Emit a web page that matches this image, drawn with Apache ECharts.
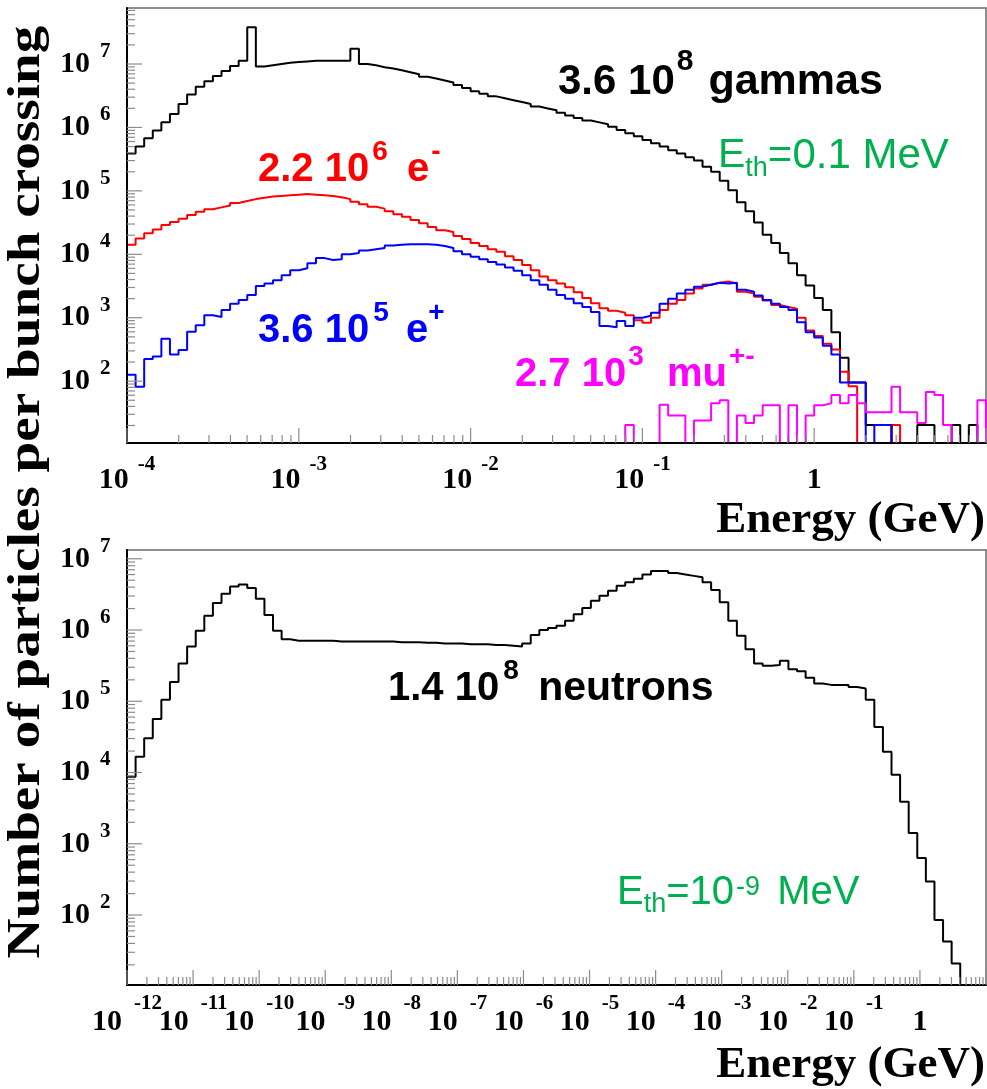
<!DOCTYPE html>
<html>
<head>
<meta charset="utf-8">
<script src="https://cdn.jsdelivr.net/npm/echarts@6/dist/echarts.min.js"></script>
<style>
  html, body { margin: 0; padding: 0; background: #fff; }
  #chart { width: 987px; height: 1089px; }
</style>
</head>
<body>
<div id="chart"></div>
<script>
// ---- Upper panel: 100 log-spaced bins from 1e-4 to 10 GeV ----
// Values are log10(particles per bunch crossing per bin); null = empty bin.
const upperRangeExp = [-4, 1];
const gammaLog = [
  5.59,5.70,5.83,5.95,6.08,6.21,6.37,6.52,6.64,6.73,
  6.81,6.89,6.97,7.05,7.58,6.96,6.98,7.00,7.02,7.03,
  7.04,7.05,7.05,7.05,7.05,7.05,7.24,7.00,6.98,6.95,
  6.93,6.90,6.87,6.84,6.80,6.77,6.74,6.71,6.67,6.62,
  6.57,6.53,6.49,6.46,6.43,6.40,6.37,6.33,6.30,6.27,
  6.23,6.19,6.15,6.11,6.08,6.05,6.01,5.96,5.91,5.86,
  5.80,5.75,5.70,5.64,5.59,5.53,5.48,5.38,5.30,5.16,
  5.01,4.82,4.68,4.50,4.31,4.18,4.02,3.86,3.67,3.51,
  3.31,3.12,2.77,2.37,1.98,1.98,1.31,1.31,1.31,null,
  null,null,1.31,1.31,null,null,1.31,null,1.31,null
];
const electronLog = [
  4.15,4.25,4.33,4.39,4.46,4.51,4.56,4.62,4.67,4.71,
  4.74,4.77,4.81,4.84,4.87,4.89,4.91,4.92,4.93,4.94,
  4.95,4.94,4.93,4.92,4.90,4.87,4.83,4.79,4.75,4.72,
  4.68,4.63,4.59,4.54,4.49,4.43,4.38,4.35,4.29,4.24,
  4.18,4.13,4.08,4.04,3.97,3.91,3.83,3.75,3.65,3.59,
  3.54,3.48,3.40,3.31,3.23,3.15,3.11,3.08,3.04,2.96,
  2.92,3.00,3.12,3.22,3.28,3.38,3.46,3.52,3.55,3.57,
  3.54,3.41,3.38,3.33,3.27,3.20,3.17,3.14,3.00,2.80,
  2.71,2.59,2.50,2.15,1.92,null,null,null,null,1.31,
  null,null,null,null,null,null,null,null,null,null
];
const positronLog = [
  2.10,1.91,2.35,2.39,2.67,2.42,2.49,2.78,2.88,3.04,
  3.01,3.12,3.22,3.28,3.36,3.50,3.54,3.59,3.67,3.75,
  3.78,3.86,3.94,3.91,3.92,4.00,4.02,4.06,4.08,4.10,
  4.14,4.15,4.16,4.16,4.16,4.15,4.13,4.10,4.05,4.00,
  3.96,3.92,3.88,3.84,3.79,3.74,3.67,3.59,3.52,3.44,
  3.36,3.30,3.23,3.17,3.09,2.87,2.85,2.95,2.87,3.00,
  3.03,3.08,3.22,3.30,3.38,3.44,3.49,3.52,3.55,3.54,
  3.55,3.44,3.41,3.35,3.28,3.22,3.17,3.12,2.93,2.77,
  2.69,2.56,2.42,1.98,1.98,1.98,null,1.31,1.31,null,
  null,null,null,null,null,null,null,null,null,null
];
const muonLog = [
  null,null,null,null,null,null,null,null,null,null,
  null,null,null,null,null,null,null,null,null,null,
  null,null,null,null,null,null,null,null,null,null,
  null,null,null,null,null,null,null,null,null,null,
  null,null,null,null,null,null,null,null,null,null,
  null,null,null,null,null,null,null,null,1.31,null,
  null,null,1.63,1.46,1.46,null,1.38,1.38,1.65,1.70,
  null,1.46,1.34,1.46,1.62,1.62,null,1.62,null,1.46,
  1.62,1.65,1.78,1.65,1.78,1.65,1.51,1.51,1.51,1.91,
  1.51,1.51,1.34,1.83,1.78,1.31,null,null,null,1.70
];
const upperYRangeExp = [1.025, 7.883];
const upperXDecades = [-4, -3, -2, -1, 0, 1];
const upperYDecades = [1, 2, 3, 4, 5, 6, 7];
const upperXLabelExp = [-4, -3, -2, -1, 0];
const upperYLabelExp = [2, 3, 4, 5, 6, 7];

// ---- Lower panel: 100 log-spaced bins from 1e-12 to 10 GeV ----
const lowerRangeExp = [-12, 1];
const neutronLog = [
  3.94,4.22,4.48,4.75,5.02,5.27,5.53,5.77,5.99,6.20,
  6.38,6.51,6.61,6.64,6.59,6.44,6.21,5.99,5.87,5.85,
  5.85,5.85,5.85,5.85,5.84,5.84,5.84,5.84,5.84,5.84,
  5.84,5.83,5.83,5.83,5.82,5.82,5.81,5.81,5.81,5.80,
  5.80,5.80,5.79,5.79,5.78,5.77,5.81,5.93,6.00,6.03,
  6.06,6.13,6.22,6.31,6.41,6.48,6.55,6.62,6.67,6.72,
  6.78,6.83,6.83,6.80,6.78,6.76,6.74,6.67,6.56,6.39,
  6.13,5.92,5.73,5.53,5.50,5.51,5.57,5.45,5.42,5.33,
  5.25,5.23,5.23,5.23,5.20,5.18,5.02,4.64,4.29,3.97,
  3.59,3.15,2.80,2.47,1.93,1.63,1.32,null,null,null
];
const lowerYRangeExp = [1.018, 7.123];
const lowerXDecades = [-12,-11,-10,-9,-8,-7,-6,-5,-4,-3,-2,-1,0,1];
const lowerYDecades = [1, 2, 3, 4, 5, 6, 7];
const lowerXLabelExp = [-12,-11,-10,-9,-8,-7,-6,-5,-4,-3,-2,-1,0];
const lowerYLabelExp = [2, 3, 4, 5, 6, 7];

const SERIF = '"Liberation Serif", "Times New Roman", serif';
const SANS = '"Liberation Sans", Arial, sans-serif';

const measure = document.createElement('canvas').getContext('2d');
function textWidth(str, font) { measure.font = font; return measure.measureText(str).width; }

// Step outline of a histogram: vertical rise at the first edge, flat tops, drop at the last edge.
function histogram(logs, rangeExp, floor) {
  const n = logs.length;
  const w = (rangeExp[1] - rangeExp[0]) / n;
  const edge = i => Math.pow(10, rangeExp[0] + i * w);
  const val = v => (v == null ? floor : Math.pow(10, v));
  const pts = [[edge(0), floor]];
  for (let i = 0; i < n; i++) pts.push([edge(i), val(logs[i])]);
  pts.push([edge(n), val(logs[n - 1])]);
  pts.push([edge(n), floor]);
  return pts;
}

function lineSeries(name, logs, rangeExp, floor, color, idx, z) {
  return {
    name, type: 'line', step: 'end', xAxisIndex: idx, yAxisIndex: idx,
    data: histogram(logs, rangeExp, floor), showSymbol: false, symbol: 'none',
    lineStyle: { color, width: 2 }, z, silent: true, animation: false
  };
}

// ROOT-style tick marks (decades long, 2..9 short) placed through the axes' log scales.
function tickSeries(idx, xDecades, yDecades, xExt, yExt) {
  const data = [];
  const inX = v => v >= xExt[0] * 0.9999 && v <= xExt[1] * 1.0001;
  const inY = v => v >= yExt[0] && v <= yExt[1];
  xDecades.forEach(e => {
    for (let k = 1; k <= 9; k++) {
      const v = k * Math.pow(10, e);
      if (inX(v)) data.push([v, yExt[0], 0, k === 1 ? 1 : 0]);
    }
  });
  yDecades.forEach(e => {
    for (let k = 1; k <= 9; k++) {
      const v = k * Math.pow(10, e);
      if (inY(v)) data.push([xExt[0], v, 1, k === 1 ? 1 : 0]);
    }
  });
  return {
    type: 'custom', xAxisIndex: idx, yAxisIndex: idx, silent: true, z: 6,
    clip: false, animation: false, data,
    renderItem(params, api) {
      const p = api.coord([api.value(0), api.value(1)]);
      const len = api.value(3) ? 15 : 8;
      const shape = api.value(2) === 1
        ? { x1: p[0], y1: p[1], x2: p[0] + len, y2: p[1] }
        : { x1: p[0], y1: p[1], x2: p[0], y2: p[1] - len };
      return { type: 'line', shape, style: { stroke: '#8c8c8c', lineWidth: 1.2 } };
    }
  };
}

// Power-of-ten tick labels ("10" with a raised exponent), positioned from the axis scales.
function labelSeries(idx, xExps, yExps, xExt, yExt, cfg) {
  const data = [];
  xExps.forEach(e => data.push([Math.pow(10, e), yExt[0], 0, e]));
  yExps.forEach(e => data.push([xExt[0], Math.pow(10, e), 1, e]));
  const baseFont = 'bold 30px ' + SERIF;
  const expFont = 'bold 21px ' + SERIF;
  const txt = (x, y, text, font, align) => ({
    type: 'text', x, y,
    style: { text, font, fill: '#000', align, verticalAlign: 'middle' }
  });
  return {
    type: 'custom', xAxisIndex: idx, yAxisIndex: idx, silent: true, z: 6,
    clip: false, animation: false, data,
    renderItem(params, api) {
      const p = api.coord([api.value(0), api.value(1)]);
      const e = api.value(3);
      const s = String(e);
      if (api.value(2) === 1) {
        return {
          type: 'group', children: [
            txt(p[0] - 37, p[1], '10', baseFont, 'right'),
            txt(p[0] - 27, p[1] - 12.5, s, expFont, 'left')
          ]
        };
      }
      const y = p[1] + cfg.dy;
      if (e === 0) return txt(p[0], y, '1', baseFont, 'center');
      const wb = textWidth('10', baseFont);
      const we = textWidth(s, expFont);
      const left = p[0] - (wb + cfg.gap + we) / 2;
      return {
        type: 'group', children: [
          txt(left, y, '10', baseFont, 'left'),
          txt(left + wb + cfg.gap, y - cfg.raise, s, expFont, 'left')
        ]
      };
    }
  };
}

function xAxis(idx, rangeExp) {
  return {
    type: 'log', logBase: 10, gridIndex: idx,
    min: Math.pow(10, rangeExp[0]), max: Math.pow(10, rangeExp[1]), interval: 1,
    z: 5,
    axisLine: { show: true, onZero: false, lineStyle: { color: '#000', width: 2 } },
    axisTick: { show: false }, splitLine: { show: false }, minorTick: { show: false },
    axisLabel: { show: false }
  };
}

function yAxis(idx, rangeExp) {
  return {
    type: 'log', logBase: 10, gridIndex: idx,
    min: Math.pow(10, rangeExp[0]), max: Math.pow(10, rangeExp[1]),
    z: 5,
    axisLine: { show: true, onZero: false, lineStyle: { color: '#000', width: 2 } },
    axisTick: { show: false }, splitLine: { show: false }, minorTick: { show: false },
    axisLabel: { show: false }
  };
}

// Inline text with superscripts / subscripts laid out piece by piece (dx = extra gap before a piece).
function runs(x, y, color, parts) {
  const out = [];
  let cx = x;
  parts.forEach(p => {
    const font = (p.weight || 'bold') + ' ' + p.size + 'px ' + SANS;
    cx += p.dx || 0;
    out.push({
      type: 'text', x: cx, y: y - (p.rise || 0), z: 20, silent: true,
      style: { text: p.t, font, fill: color, align: 'left', verticalAlign: 'middle' }
    });
    cx += textWidth(p.t, font);
  });
  return out;
}

const upperXExt = [Math.pow(10, upperRangeExp[0]), Math.pow(10, upperRangeExp[1])];
const upperYExt = [Math.pow(10, upperYRangeExp[0]), Math.pow(10, upperYRangeExp[1])];
const lowerXExt = [Math.pow(10, lowerRangeExp[0]), Math.pow(10, lowerRangeExp[1])];
const lowerYExt = [Math.pow(10, lowerYRangeExp[0]), Math.pow(10, lowerYRangeExp[1])];

const GREEN = '#00b050';
const graphics = [].concat(
  runs(558, 82, '#000', [
    { t: '3.6 10', size: 42 }, { t: '8', size: 30, rise: 20, dx: 2 }, { t: ' gammas', size: 43, dx: 3 }
  ]),
  runs(258, 170, '#ff0000', [
    { t: '2.2 10', size: 40 }, { t: '6', size: 28, rise: 18, dx: 3 }, { t: ' e', size: 40, dx: 8 },
    { t: '-', size: 28, rise: 18, dx: 2 }
  ]),
  runs(258, 331, '#0000ff', [
    { t: '3.6 10', size: 40 }, { t: '5', size: 28, rise: 18, dx: 4 }, { t: ' e', size: 40, dx: 6 },
    { t: '+', size: 28, rise: 18 }
  ]),
  runs(515, 375, '#ff00ff', [
    { t: '2.7 10', size: 40 }, { t: '3', size: 28, rise: 18, dx: 2 }, { t: ' mu', size: 40, dx: 12 },
    { t: '+-', size: 28, rise: 18, dx: 2 }
  ]),
  runs(718, 156, GREEN, [
    { t: 'E', size: 41, weight: 'normal' }, { t: 'th', size: 27, weight: 'normal', rise: -13 },
    { t: '=0.1 MeV', size: 42, weight: 'normal' }
  ]),
  runs(388, 689, '#000', [
    { t: '1.4 10', size: 40 }, { t: '8', size: 28, rise: 18, dx: 4 }, { t: ' neutrons', size: 41, dx: 8 }
  ]),
  runs(617, 893, GREEN, [
    { t: 'E', size: 40, weight: 'normal' }, { t: 'th', size: 27, weight: 'normal', rise: -12 },
    { t: '=10', size: 40, weight: 'normal' }, { t: '-9', size: 27, weight: 'normal', rise: 5, dx: 2 },
    { t: ' MeV', size: 40, weight: 'normal', dx: 6 }
  ]),
  [
    {
      type: 'text', x: 985, y: 520, z: 20, silent: true,
      style: { text: 'Energy (GeV)', font: 'bold 45px ' + SERIF, fill: '#000', align: 'right', verticalAlign: 'middle' }
    },
    {
      type: 'text', x: 985, y: 1065, z: 20, silent: true,
      style: { text: 'Energy (GeV)', font: 'bold 45px ' + SERIF, fill: '#000', align: 'right', verticalAlign: 'middle' }
    },
    {
      type: 'text', x: 27, y: 492, rotation: Math.PI / 2, z: 20, silent: true,
      style: { text: 'Number of particles per bunch crossing', font: 'bold 46px ' + SERIF, fill: '#000', align: 'center', verticalAlign: 'middle' },
      scaleX: 1.2
    }
  ]
);

const chart = echarts.init(document.getElementById('chart'), null, { renderer: 'canvas' });
chart.setOption({
  animation: false,
  backgroundColor: '#fff',
  grid: [
    { left: 127, top: 8, width: 859, height: 435, show: true, borderColor: '#6a6a6a', borderWidth: 1.5, backgroundColor: 'transparent', containLabel: false, outerBoundsMode: 'none' },
    { left: 127, top: 550, width: 859, height: 435, show: true, borderColor: '#6a6a6a', borderWidth: 1.5, backgroundColor: 'transparent', containLabel: false, outerBoundsMode: 'none' }
  ],
  xAxis: [xAxis(0, upperRangeExp), xAxis(1, lowerRangeExp)],
  yAxis: [yAxis(0, upperYRangeExp), yAxis(1, lowerYRangeExp)],
  series: [
    lineSeries('gammas', gammaLog, upperRangeExp, upperYExt[0], '#000000', 0, 2),
    lineSeries('e-', electronLog, upperRangeExp, upperYExt[0], '#ff0000', 0, 3),
    lineSeries('e+', positronLog, upperRangeExp, upperYExt[0], '#0000ff', 0, 4),
    lineSeries('mu+-', muonLog, upperRangeExp, upperYExt[0], '#ff00ff', 0, 4.5),
    lineSeries('neutrons', neutronLog, lowerRangeExp, lowerYExt[0], '#000000', 1, 2),
    tickSeries(0, upperXDecades, upperYDecades, upperXExt, upperYExt),
    tickSeries(1, lowerXDecades, lowerYDecades, lowerXExt, lowerYExt),
    labelSeries(0, upperXLabelExp, upperYLabelExp, upperXExt, upperYExt, { dy: 37, raise: 15, gap: 9 }),
    labelSeries(1, lowerXLabelExp, lowerYLabelExp, lowerXExt, lowerYExt, { dy: 37, raise: 18.5, gap: 12 })
  ],
  graphic: { elements: graphics }
});
</script>
</body>
</html>
